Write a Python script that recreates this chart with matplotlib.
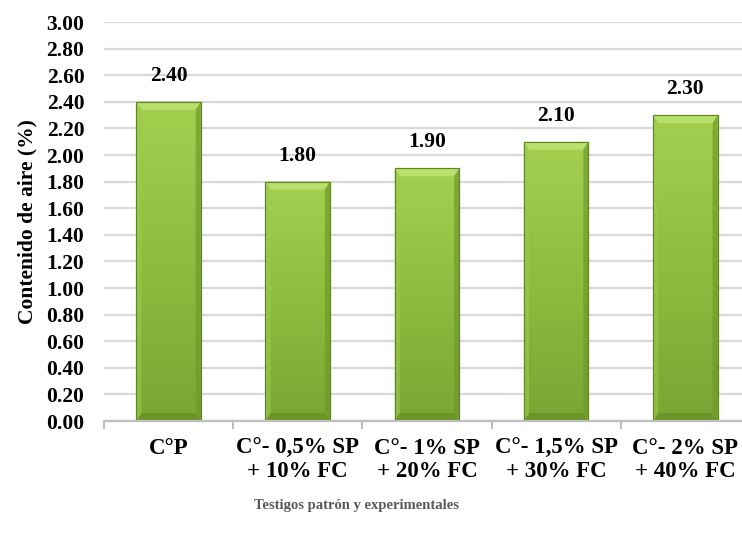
import numpy as np
import matplotlib.pyplot as plt
from matplotlib.colors import LinearSegmentedColormap
from matplotlib.patches import Polygon

# ── Datos ──────────────────────────────────────────────────────────────────
categorias = ["C°P", "C°- 0,5% SP\n+ 10% FC", "C°- 1% SP\n+ 20% FC",
              "C°- 1,5% SP\n+ 30% FC", "C°- 2% SP\n+ 40% FC"]
contenido_aire = [2.40, 1.80, 1.90, 2.10, 2.30]
ticks_y = np.arange(0, 3.01, 0.2)
# ───────────────────────────────────────────────────────────────────────────

plt.rcParams['font.family'] = ['Liberation Serif', 'DejaVu Serif']
plt.rcParams['font.weight'] = 'bold'

fig = plt.figure(figsize=(7.42, 5.42), dpi=100)
ax = fig.add_axes([0.140, 0.2232, 0.8708, 0.7362])

x = np.arange(len(categorias))
ancho = 0.5

ax.set_xlim(-0.5, len(categorias) - 0.5)
ax.set_ylim(0, 3.0)
ax.set_yticks(ticks_y)
ax.set_yticklabels([f"{v:.2f}" for v in ticks_y], fontsize=15.5, fontweight='bold')
ax.yaxis.grid(True, color='#d9d9d9', linewidth=1.6)
ax.set_axisbelow(True)

# degradado vertical del relleno de cada barra
verde = LinearSegmentedColormap.from_list('verde', ['#7aa534', '#8dbd3e', '#a4d050'])
grad = np.linspace(0, 1, 256).reshape(-1, 1)

barras = ax.bar(x, contenido_aire, width=ancho, color='#8dbd3e',
                edgecolor='#5f8423', linewidth=0.8, zorder=2)

for b, v in zip(barras, contenido_aire):
    x0, w, h = b.get_x(), b.get_width(), b.get_height()
    img = ax.imshow(grad, cmap=verde, origin='lower', aspect='auto',
                    extent=[x0, x0 + w, 0, h], zorder=2.1)
    img.set_clip_path(b)
    # bisel en los cuatro lados
    bx, by = 0.04, 0.06
    sup = Polygon([[x0, h], [x0 + w, h], [x0 + w - bx, h - by], [x0 + bx, h - by]],
                  closed=True, facecolor='#b8e06c', edgecolor='none', zorder=2.2)
    inf = Polygon([[x0, 0], [x0 + w, 0], [x0 + w - bx, by], [x0 + bx, by]],
                  closed=True, facecolor='#6c9529', edgecolor='none', zorder=2.2)
    izq = Polygon([[x0, 0], [x0, h], [x0 + bx, h - by], [x0 + bx, by]],
                  closed=True, facecolor='#9ccb4c', edgecolor='none', alpha=0.6, zorder=2.2)
    der = Polygon([[x0 + w, 0], [x0 + w, h], [x0 + w - bx, h - by], [x0 + w - bx, by]],
                  closed=True, facecolor='#6f9a2b', edgecolor='none', alpha=0.7, zorder=2.2)
    for p in (sup, inf, izq, der):
        ax.add_patch(p)
    borde = plt.Rectangle((x0, 0), w, h, fill=False, edgecolor='#5f8423',
                          linewidth=0.8, zorder=2.3)
    ax.add_patch(borde)
    ax.text(b.get_x() + w / 2, h + 0.12, f"{v:.2f}", ha='center', va='bottom',
            fontsize=15.5, fontweight='bold', zorder=3)

# eje x con marcas entre categorías
ax.set_xticks(x)
ax.set_xticklabels(categorias, fontsize=16.5, fontweight='bold', linespacing=1.15)
ax.set_xticks(np.arange(-0.5, len(categorias), 1.0), minor=True)
ax.tick_params(axis='x', which='major', length=0, pad=12)
ax.tick_params(axis='x', which='minor', length=6, color='#bfbfbf', width=1.5)
ax.tick_params(axis='y', length=0, pad=14)

for lado in ('left', 'right', 'top'):
    ax.spines[lado].set_visible(False)
ax.spines['bottom'].set_color('#bfbfbf')
ax.spines['bottom'].set_linewidth(1.6)

ax.set_ylabel("Contenido de aire (%)", fontsize=15.5, fontweight='bold', labelpad=6)
fig.text(0.48, 0.068, "Testigos patrón y experimentales", ha='center', va='center',
         fontsize=10.5, fontweight='bold', color='#595959')

plt.savefig("out.png", dpi=100)
